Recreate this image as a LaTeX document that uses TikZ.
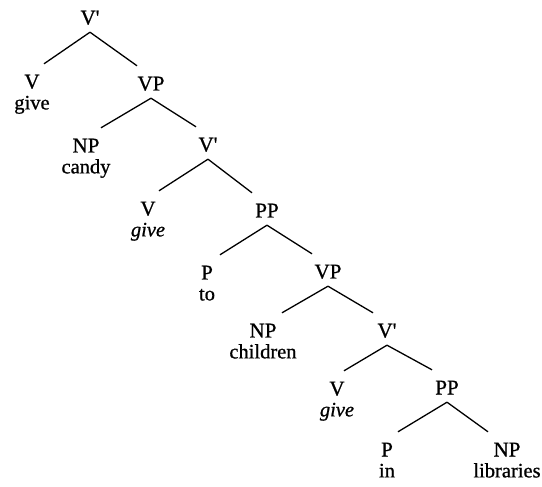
\documentclass[tikz,border=0pt]{standalone}
\usepackage{fontspec}
\setmainfont{Liberation Serif}[FakeBold=0.8, ItalicFeatures={FakeBold=0.8}]
\usetikzlibrary{positioning}

\begin{document}
\begin{tikzpicture}[x=1pt, y=-1pt,
    cat/.style={inner sep=0pt, anchor=base, text height=24.5pt, text depth=7.5pt,
        font=\fontsize{21}{24}\selectfont},
    word/.style={inner sep=0pt, text height=12pt, text depth=4pt, below=1pt of #1,
        font=\fontsize{20.5}{23}\selectfont},
    branch/.style={line width=1.3pt}]

    \useasboundingbox (0,0) rectangle (542,487);

    % Category labels
    \node[cat] (vbar1) at (90,24.5) {V\textquotesingle};
    \node[cat] (v1) at (32,88.5) {V};
    \node[cat] (vp1) at (151,90.5) {VP};
    \node[cat] (np1) at (86,152.5) {NP};
    \node[cat] (vbar2) at (208,151.5) {V\textquotesingle};
    \node[cat] (v2) at (148,215.5) {V};
    \node[cat] (pp1) at (267,217.5) {PP};
    \node[cat] (p1) at (207,279.5) {P};
    \node[cat] (vp2) at (328,278.5) {VP};
    \node[cat] (np2) at (263,337.5) {NP};
    \node[cat] (vbar3) at (387,337.5) {V\textquotesingle};
    \node[cat] (v3) at (337,395.5) {V};
    \node[cat] (pp2) at (447,394.5) {PP};
    \node[cat] (p2) at (387,456.5) {P};
    \node[cat] (np3) at (507,456.5) {NP};

    % Words under the leaves
    \node[word=v1] (give1) {give};
    \node[word=np1] (candy) {candy};
    \node[word=v2] (give2) {\itshape give};
    \node[word=p1] (to) {to};
    \node[word=np2] (children) {children};
    \node[word=v3] (give3) {\itshape give};
    \node[word=p2] (in) {in};
    \node[word=np3] (libraries) {libraries};

    % Branches, left child then right child
    \draw[branch] (vbar1.south) -- ([xshift=12pt]v1.north);
    \draw[branch] (vbar1.south) -- ([xshift=-14pt]vp1.north);

    \draw[branch] (vp1.south) -- ([xshift=15pt]np1.north);
    \draw[branch] (vp1.south) -- ([xshift=-12pt]vbar2.north);

    \draw[branch] (vbar2.south) -- ([xshift=11pt]v2.north);
    \draw[branch] (vbar2.south) -- ([xshift=-15pt]pp1.north);

    \draw[branch] (pp1.south) -- ([xshift=13pt]p1.north);
    \draw[branch] (pp1.south) -- ([xshift=-16pt]vp2.north);

    \draw[branch] (vp2.south) -- ([xshift=19pt]np2.north);
    \draw[branch] (vp2.south) -- ([xshift=-14pt]vbar3.north);

    \draw[branch] (vbar3.south) -- ([xshift=7pt]v3.north);
    \draw[branch] (vbar3.south) -- ([xshift=-15pt]pp2.north);

    \draw[branch] (pp2.south) -- ([xshift=11pt]p2.north);
    \draw[branch] (pp2.south) -- ([xshift=-19pt]np3.north);

\end{tikzpicture}
\end{document}
